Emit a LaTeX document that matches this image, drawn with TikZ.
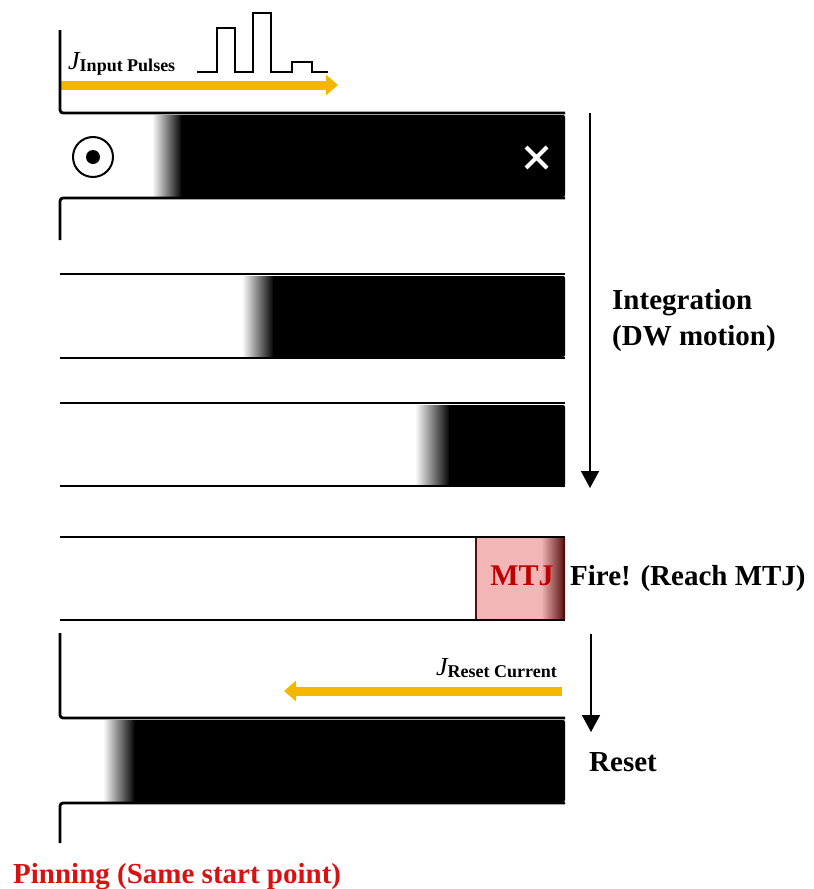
\documentclass[tikz,border=0pt]{standalone}
\usepackage{fontspec}
\setmainfont{Liberation Serif}
\usetikzlibrary{arrows.meta}

\definecolor{pulse}{RGB}{245,182,0}
\definecolor{mtjfill}{RGB}{243,182,182}
\definecolor{mtjdark}{RGB}{85,12,12}
\definecolor{mtjred}{RGB}{190,0,0}
\definecolor{pinred}{RGB}{215,18,18}

\begin{document}
\begin{tikzpicture}[x=1pt,y=-1pt,
  wire/.style={line width=2.8pt,rounded corners=3pt},
  flow/.style={line width=1.6pt,-{Triangle[length=17pt,width=18pt]}},
  current/.style={draw=pulse,line width=9pt,-{Triangle[length=12pt,width=20pt]}},
  caption/.style={font=\fontsize{29}{36}\selectfont\bfseries,inner sep=0pt},
  jlabel/.style={inner sep=0pt,font=\fontsize{26}{26}\selectfont\itshape},
  dwall/.style={left color=white,right color=black}]
\useasboundingbox (0,0) rectangle (814,889);

% ---- input pulses and input current ----
\draw[line width=2.6pt] (197,72) -- (217,72) -- (217,28) -- (235,28) -- (235,72)
  -- (253,72) -- (253,13) -- (271,13) -- (271,72) -- (292,72) -- (292,62)
  -- (312,62) -- (312,72) -- (328,72);
\node[jlabel,anchor=base west] (jin) at (68,69)
  {J\raisebox{-2pt}{\fontsize{18}{18}\selectfont\upshape\bfseries Input Pulses}};
\coordinate (inS) at (61,85);
\coordinate (inE) at (338,85);
\draw[current] (inS) -- (inE);

% ---- track 1: initial state ----
\draw[wire] (60,30) -- (60,113) -- (565,113);
\shade[dwall] (152,115) rectangle (182,196);
\fill[rounded corners=2pt] (181,115) rectangle (565,197);
\draw[wire] (565,198) -- (60,198) -- (60,240);
\draw[line width=2pt] (93,157) circle (20pt);
\fill (93,157) circle (7pt);
\draw[white,line width=4pt] (526,147) -- (547,168) (526,168) -- (547,147);

% ---- track 2 ----
\draw[wire] (60,274) -- (565,274);
\shade[dwall] (242,276) rectangle (274,356);
\fill[rounded corners=2pt] (273,276) rectangle (565,357);
\draw[wire] (60,358) -- (565,358);

% ---- track 3 ----
\draw[wire] (60,403) -- (565,403);
\shade[dwall] (415,405) rectangle (450,485);
\fill[rounded corners=2pt] (449,405) rectangle (565,486);
\draw[wire] (60,486) -- (565,486);

% ---- track 4: wall reaches the MTJ ----
\fill[mtjfill] (475,538) rectangle (542,619);
\shade[left color=mtjfill,right color=mtjdark] (541,538) rectangle (565,619);
\draw[mtjdark,line width=2pt] (476,538) -- (476,619);
\draw[mtjdark,line width=2pt] (564,538) -- (564,619);
\draw[wire] (60,537) -- (565,537);
\draw[wire] (60,620) -- (565,620);
\node[inner sep=0pt,anchor=base,text=mtjred,font=\fontsize{30}{30}\selectfont\bfseries]
  (mtj) at (522,585) {MTJ};

% ---- reset current ----
\node[jlabel,anchor=base east] (jrs) at (557,675)
  {J\raisebox{-2pt}{\fontsize{18}{18}\selectfont\upshape\bfseries Reset Current}};
\coordinate (rsS) at (562,691);
\coordinate (rsE) at (284,691);
\draw[current] (rsS) -- (rsE);

% ---- track 5: pinned back at the start ----
\draw[wire] (60,633) -- (60,718) -- (565,718);
\shade[dwall] (103,720) rectangle (135,801);
\fill[rounded corners=2pt] (134,720) rectangle (565,802);
\draw[wire] (565,803) -- (60,803) -- (60,843);

% ---- process arrows ----
\coordinate (intA) at (590,113);
\coordinate (intB) at (590,488);
\draw[flow] (intA) -- (intB);
\coordinate (rstA) at (591,634);
\coordinate (rstB) at (591,732);
\draw[flow] (rstA) -- (rstB);

% ---- captions ----
\node[caption,anchor=base west] (int1) at (612,309) {Integration};
\node[caption,anchor=base west] (int2) at (612,345) {(DW motion)};
\node[caption,anchor=base west] (fire) at (570,585) {Fire! (Reach MTJ)};
\node[caption,anchor=base west] (rst) at (589,771) {Reset};
\node[caption,anchor=base west,text=pinred] (pin) at (13,883) {Pinning (Same start point)};
\end{tikzpicture}
\end{document}
